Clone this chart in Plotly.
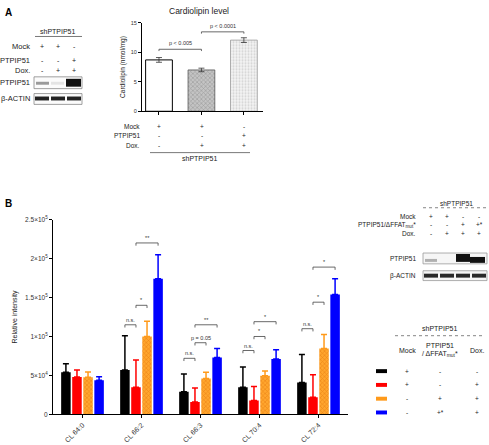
import plotly.graph_objects as go

W, H = 489, 445
FONT = "Arial, 'Liberation Sans', sans-serif"

# ---------------- Panel A data ----------------
a_groups = ["Mock", "Dox.", "PTPIP51 + Dox."]
a_values = [8.7, 7.0, 12.05]
a_errors = [0.4, 0.3, 0.4]
a_mock = ["+", "+", "-"]
a_ptpip = ["-", "-", "+"]
a_dox = ["-", "+", "+"]
a_yticks = [0, 5, 10, 15]
a_pvals = [(0, 1, 10.5, "p < 0.005"), (1, 2, 13.45, "p < 0.0001")]

# ---------------- Panel B data ----------------
b_categories = ["CL 64:0", "CL 66:2", "CL 66:3", "CL 70:4", "CL 72:4"]
b_black = [54000, 57000, 29000, 35000, 41000]
b_black_err = [11000, 44000, 23000, 26000, 36000]
b_red = [48000, 35000, 16000, 18000, 22000]
b_red_err = [9000, 35000, 18000, 18000, 29000]
b_orange = [47600, 100000, 46000, 49600, 84600]
b_orange_err = [6700, 19500, 8000, 6000, 18000]
b_blue = [43800, 174000, 73000, 71000, 154000]
b_blue_err = [4600, 31000, 11500, 12000, 20000]
b_tickvals = [0, 50000, 100000, 150000, 200000, 250000]
b_ticktext = ["0", "5×10<sup>4</sup>", "1×10<sup>5</sup>", "1.5×10<sup>5</sup>",
              "2×10<sup>5</sup>", "2.5×10<sup>5</sup>"]
# (category, bar a, bar b, level, label)
b_sig = [
    (1, 0, 1, 115000, "n.s."), (1, 1, 2, 140000, "*"), (1, 1, 3, 220000, "**"),
    (2, 0, 1, 72000, "n.s."), (2, 1, 2, 92000, "p = 0.05"), (2, 1, 3, 115000, "**"),
    (3, 0, 1, 82000, "n.s."), (3, 1, 2, 100000, "*"), (3, 1, 3, 119000, "*"),
    (4, 0, 1, 110000, "n.s."), (4, 1, 2, 144000, "*"), (4, 1, 3, 189000, "*"),
]
legend_rows = [("#000000", "+", "-", "-"), ("#ff0000", "+", "-", "+"),
               ("#ff9a1a", "-", "+", "+"), ("#0000ff", "-", "+*", "+")]

def px(x):
    return x / W

def py(y):
    return 1 - y / H

fig = go.Figure()

# Panel B bars
BARGAP = 0.25
series = [
    ("black", b_black, b_black_err, "#000000", None),
    ("red", b_red, b_red_err, "#ff0000", None),
    ("orange", b_orange, b_orange_err, "#ff9a1a",
     dict(shape="x", fgcolor="#d96000", bgcolor="#ffa62e", size=3, solidity=0.35)),
    ("blue", b_blue, b_blue_err, "#0000ff", None),
]
for name, vals, errs, col, pat in series:
    marker = dict(color=col, line=dict(width=0))
    if pat:
        marker["pattern"] = pat
    fig.add_trace(go.Bar(
        x=b_categories, y=vals, name=name, marker=marker,
        error_y=dict(type="data", symmetric=False, array=errs,
                     arrayminus=[0] * len(errs), color=col, thickness=1.5, width=3),
        xaxis="x", yaxis="y", showlegend=False, hoverinfo="skip"))

# Panel A bars
a_markers = [
    dict(color="white", line=dict(color="black", width=1)),
    dict(color="#b0b0b0", line=dict(color="#555", width=0.8),
         pattern=dict(shape="x", fgcolor="#7a7a7a", bgcolor="#c4c4c4", size=3, solidity=0.4)),
    dict(color="#eeeeee", line=dict(color="#999", width=0.8),
         pattern=dict(shape=".", fgcolor="#b0b0b0", bgcolor="#f4f4f4", size=3, solidity=0.4)),
]
for i in range(3):
    fig.add_trace(go.Bar(
        x=[a_groups[i]], y=[a_values[i]], marker=a_markers[i], width=0.63,
        error_y=dict(type="data", array=[a_errors[i]], color="#333", thickness=0.8, width=3),
        xaxis="x2", yaxis="y2", showlegend=False, hoverinfo="skip"))

shapes = []
annos = []

def txt(x, y, s, size=6, xa="center", ya="middle", bold=False, color="#222"):
    if bold:
        s = "<b>" + s + "</b>"
    annos.append(dict(x=px(x), y=py(y), xref="paper", yref="paper", text=s,
                      showarrow=False, xanchor=xa, yanchor=ya,
                      font=dict(size=size, family=FONT, color=color)))

def rect(x0, y0, x1, y1, fill, line=None, lw=0.8):
    shapes.append(dict(type="rect", xref="paper", yref="paper",
                       x0=px(x0), x1=px(x1), y0=py(y1), y1=py(y0),
                       fillcolor=fill, line=dict(color=line or fill, width=lw if line else 0)))

def hline(x0, x1, y, color="#666", w=0.8, dash="dot"):
    shapes.append(dict(type="line", xref="paper", yref="paper", x0=px(x0), x1=px(x1),
                       y0=py(y), y1=py(y), line=dict(color=color, width=w, dash=dash)))

# Panel B significance brackets
slot = (1 - BARGAP) / 4
tick_b = 3500
for cat, k1, k2, lvl, lab in b_sig:
    xa = cat + (k1 - 1.5) * slot
    xb = cat + (k2 - 1.5) * slot
    shapes.append(dict(type="path", xref="x", yref="y",
                       path=f"M {xa},{lvl - tick_b} L {xa},{lvl} L {xb},{lvl} L {xb},{lvl - tick_b}",
                       line=dict(color="#444", width=0.8)))
    annos.append(dict(x=(xa + xb) / 2, y=lvl, xref="x", yref="y", text=lab, showarrow=False,
                      yanchor="bottom", yshift=0, font=dict(size=5.5, family=FONT, color="#333")))

# Panel A significance brackets
for k1, k2, lvl, lab in a_pvals:
    shapes.append(dict(type="path", xref="x2", yref="y2",
                       path=f"M {k1},{lvl - 0.3} L {k1},{lvl} L {k2},{lvl} L {k2},{lvl - 0.3}",
                       line=dict(color="#444", width=0.8)))
    annos.append(dict(x=(k1 + k2) / 2, y=lvl, xref="x2", yref="y2", text=lab, showarrow=False,
                      yanchor="bottom", yshift=1, font=dict(size=5.5, family=FONT, color="#333")))

# Panel letters
txt(3, 1, "A", size=10, xa="left", ya="top", bold=True, color="#000")
txt(3, 195, "B", size=10, xa="left", ya="top", bold=True, color="#000")

# Panel A title and table under bars
txt(199, 7, "Cardiolipin level", size=8.5)
acols = [159, 202, 244]
for lab, row, y in [("Mock", a_mock, 124), ("PTPIP51", a_ptpip, 134), ("Dox.", a_dox, 144)]:
    txt(142, y, lab, size=6.5, xa="right")
    for c, s in zip(acols, row):
        txt(c, y, s, size=6.5)
hline(150, 250, 151, color="#555", w=0.8, dash="solid")
txt(200, 157, "shPTPIP51", size=7)

# Panel A blot
txt(58, 28, "shPTPIP51", size=7)
hline(35, 82, 33, color="#555", w=0.8, dash="solid")
lanes3 = [42, 58, 74]
for lab, row, y in [("Mock", a_mock, 43), ("PTPIP51", a_ptpip, 57), ("Dox.", a_dox, 68)]:
    txt(32, y, lab, size=7.5, xa="right")
    for c, s in zip(lanes3, row):
        txt(c, y, s, size=7)
txt(32, 80, "PTPIP51", size=7.5, xa="right")
txt(32, 96, "β-ACTIN", size=7.5, xa="right")
rect(34, 74, 82, 86, "#fbfbfb", line="#888")
rect(34, 91, 82, 102, "#fbfbfb", line="#888")
rect(36, 79, 49, 82, "#9a9a9a")
rect(51, 79, 64, 82, "#e4e4e4")
rect(66, 76, 81, 84, "#111111")
for c in lanes3:
    rect(c - 7, 94, c + 7, 98, "#222222")

# Panel B top-right blot
txt(456, 203, "shPTPIP51", size=6.5)
hline(423, 487, 207, color="#666", w=0.8)
lanes4 = [431, 447, 463, 479]
b_mock4 = ["+", "+", "-", "-"]
b_ptp4 = ["-", "-", "+", "+*"]
b_dox4 = ["-", "+", "+", "+"]
for lab, row, y in [("Mock", b_mock4, 216),
                    ("PTPIP51/ΔFFAT<sub>mut</sub>*", b_ptp4, 224.5),
                    ("Dox.", b_dox4, 233)]:
    txt(418, y, lab, size=6.5, xa="right")
    for c, s in zip(lanes4, row):
        txt(c, y, s, size=6.5)
txt(418, 258.5, "PTPIP51", size=6.5, xa="right")
txt(418, 276, "β-ACTIN", size=6.5, xa="right")
rect(423, 253, 487, 264, "#f6f6f6", line="#999")
rect(423, 271, 487, 281, "#f6f6f6", line="#999")
rect(425, 259, 437, 262, "#b0b0b0")
rect(456, 254, 470, 262, "#111111")
rect(470, 257, 485, 263, "#111111")
for c in lanes4:
    rect(c - 7, 274, c + 7, 278, "#2a2a2a")

# Panel B bottom-right legend table
txt(440, 330, "shPTPIP51", size=7)
hline(395, 482, 337, color="#666", w=0.8)
txt(407, 352, "Mock", size=7)
txt(440, 347, "PTPIP51", size=7)
txt(440, 356, "/ ΔFFAT<sub>mut</sub>*", size=7)
txt(477, 352, "Dox.", size=7)
for (col, m, p, d), y in zip(legend_rows, [373, 387, 401, 415]):
    rect(376, y - 2, 387, y + 2, col)
    txt(407, y, m, size=6.5)
    txt(440, y, p, size=6.5)
    txt(477, y, d, size=6.5)

axis_common = dict(showgrid=False, zeroline=False, showline=True, linecolor="black",
                   linewidth=1, ticks="outside", tickcolor="black", ticklen=3, tickwidth=1)

fig.update_layout(
    width=W, height=H, margin=dict(l=0, r=0, t=0, b=0),
    paper_bgcolor="white", plot_bgcolor="white",
    font=dict(family=FONT, size=6, color="#222"),
    barmode="group", bargap=BARGAP, bargroupgap=0.14,
    showlegend=False,
    xaxis=dict(domain=[px(53), px(348)], anchor="y", type="category",
               range=[-0.5, 4.5], tickangle=-45, tickfont=dict(size=7, color="#333"),
               **axis_common),
    yaxis=dict(domain=[py(417), py(219)], anchor="x", range=[0, 250000],
               tickvals=b_tickvals, ticktext=b_ticktext, tickfont=dict(size=6.5, color="#333"),
               title=dict(text="Relative intensity", font=dict(size=7, color="#222"), standoff=6),
               **axis_common),
    xaxis2=dict(domain=[px(142), px(263)], anchor="y2", type="category",
                range=[-0.4, 2.45], showticklabels=False, **axis_common),
    yaxis2=dict(domain=[py(109), py(19)], anchor="x2", range=[0, 15],
                tickvals=a_yticks, tickfont=dict(size=5.5, color="#333"),
                title=dict(text="Cardiolipin (nmol/mg)", font=dict(size=6.5, color="#222"), standoff=4),
                **axis_common),
    shapes=shapes, annotations=annos,
)

fig.write_html("out.html", config={"displayModeBar": False},
               post_script="document.body.style.margin='0';document.body.style.padding='0';"
                           "document.body.style.overflow='hidden';")
